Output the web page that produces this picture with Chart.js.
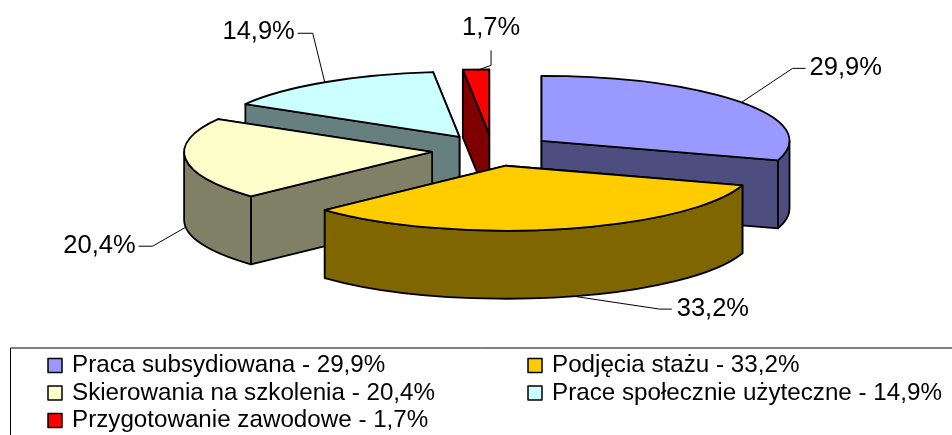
<!DOCTYPE html>
<html><head><meta charset="utf-8">
<style>html,body{margin:0;padding:0;background:#fff;overflow:hidden}canvas{display:block}</style>
<script src="https://cdn.jsdelivr.net/npm/chart.js@4"></script>
</head><body><canvas id="c" width="952" height="435"></canvas>
<script>
const categories = ['Praca subsydiowana','Podjęcia stażu','Skierowania na szkolenia','Prace społecznie użyteczne','Przygotowanie zawodowe'];
const values = [29.9,33.2,20.4,14.9,1.7];
const valueLabels = ['29,9%','33,2%','20,4%','14,9%','1,7%'];
const topColors = ['#9999FF','#FFCC00','#FFFFCC','#CCFFFF','#FF0000'];
const sideColors = ['#4D4D80','#806600','#808066','#668080','#800000'];
const drawOrder = [3,4,0,2,1];

const pie = {cx:492.5, cy:150.2, rx:248, ry:65, depth:68, explode:0.245};
// leader: shift of start from rim anchor, knee offset, end offset, label placement
const leaders = [
  {shift:[0,0], knee:[51,-34], end:[13,0], front:false, align:'left', gap:[4,0]},
  {shift:[12,-1], knee:[87,13], end:[12,0], front:true, align:'left', gap:[5,0]},
  {shift:[0,0], knee:[-33,19], end:[-14,0], front:true, align:'right', gap:[-3,0]},
  {shift:[0,0], knee:[-12,-49], end:[-15,0], front:false, align:'right', gap:[-3,-1]},
  {shift:[1,1], knee:[14,-5], end:[0,-15], front:false, align:'center', gap:[0,-22]}
];
const legendBox = {x:10.5, y:348, swatch:14};
const legendColumns = [48, 528];
const legendRows = [365.5, 393, 420.5];

const font = s => s+'px "Liberation Sans", Arial, sans-serif';

function drawSlice(ctx, el, i){
  const s = el.startAngle, e = el.endAngle, mid = (s+e)/2;
  const ax = pie.cx + pie.explode*pie.rx*Math.cos(mid);
  const ay = pie.cy + pie.explode*pie.ry*Math.sin(mid);
  const rim = t => [ax+pie.rx*Math.cos(t), ay+pie.ry*Math.sin(t)];
  ctx.lineWidth = 1.8; ctx.strokeStyle = '#000'; ctx.lineJoin = 'round';
  const faces = [s,e].sort((p,q)=>Math.sin(p)-Math.sin(q));
  ctx.fillStyle = sideColors[i];
  for(const t of faces){
    const [x,y] = rim(t);
    ctx.beginPath(); ctx.moveTo(ax,ay); ctx.lineTo(x,y); ctx.lineTo(x,y+pie.depth); ctx.lineTo(ax,ay+pie.depth); ctx.closePath();
    ctx.fill(); ctx.stroke();
  }
  const ws = Math.max(s,0), we = Math.min(e,Math.PI);
  if(we>ws){
    ctx.beginPath();
    ctx.ellipse(ax,ay,pie.rx,pie.ry,0,ws,we);
    ctx.ellipse(ax,ay+pie.depth,pie.rx,pie.ry,0,we,ws,true);
    ctx.closePath(); ctx.fill(); ctx.stroke();
  }
  ctx.fillStyle = topColors[i];
  ctx.beginPath(); ctx.moveTo(ax,ay); ctx.ellipse(ax,ay,pie.rx,pie.ry,0,s,e); ctx.closePath();
  ctx.fill(); ctx.stroke();
}

function drawLeader(ctx, el, i){
  const mid = (el.startAngle+el.endAngle)/2, L = leaders[i];
  const ax = pie.cx + pie.explode*pie.rx*Math.cos(mid);
  const ay = pie.cy + pie.explode*pie.ry*Math.sin(mid);
  const x0 = ax+pie.rx*Math.cos(mid)+L.shift[0], y0 = ay+pie.ry*Math.sin(mid)+(L.front?pie.depth:0)+L.shift[1];
  const x1 = x0+L.knee[0], y1 = y0+L.knee[1], x2 = x1+L.end[0], y2 = y1+L.end[1];
  ctx.strokeStyle='#000'; ctx.lineWidth=1;
  ctx.beginPath(); ctx.moveTo(x0,y0); ctx.lineTo(x1,y1); ctx.lineTo(x2,y2); ctx.stroke();
  ctx.fillStyle='#000'; ctx.font=font(25.5); ctx.textBaseline='middle';
  ctx.textAlign=L.align;
  ctx.fillText(valueLabels[i], x2+L.gap[0], y2+L.gap[1]);
}

function drawLegend(ctx){
  ctx.strokeStyle='#000'; ctx.lineWidth=1;
  ctx.beginPath(); ctx.moveTo(960,legendBox.y); ctx.lineTo(legendBox.x,legendBox.y); ctx.lineTo(legendBox.x,440); ctx.stroke();
  const pos = [[0,0],[1,0],[0,1],[1,1],[0,2]];
  categories.forEach((c,i)=>{
    const x = legendColumns[pos[i][0]], y = legendRows[pos[i][1]], b = legendBox.swatch;
    ctx.fillStyle=topColors[i]; ctx.lineWidth=1.5;
    ctx.fillRect(x,y-b/2,b,b); ctx.strokeRect(x,y-b/2,b,b);
    ctx.fillStyle='#000'; ctx.font=font(24.2); ctx.textAlign='left'; ctx.textBaseline='middle';
    ctx.fillText(c+' - '+valueLabels[i], x+24, y);
  });
}

const pie3d = {
  id:'pie3d',
  beforeDatasetDraw(chart,args){
    const ctx = chart.ctx, els = args.meta.data;
    drawOrder.forEach(i=>drawSlice(ctx,els[i],i));
    els.forEach((el,i)=>drawLeader(ctx,el,i));
    return false;
  },
  afterDraw(chart){ drawLegend(chart.ctx); }
};

new Chart(document.getElementById('c'),{
  type:'pie',
  data:{labels:categories,datasets:[{data:values,backgroundColor:topColors}]},
  options:{responsive:false,animation:false,plugins:{legend:{display:false},tooltip:{enabled:false}}},
  plugins:[pie3d]
});
</script></body></html>
